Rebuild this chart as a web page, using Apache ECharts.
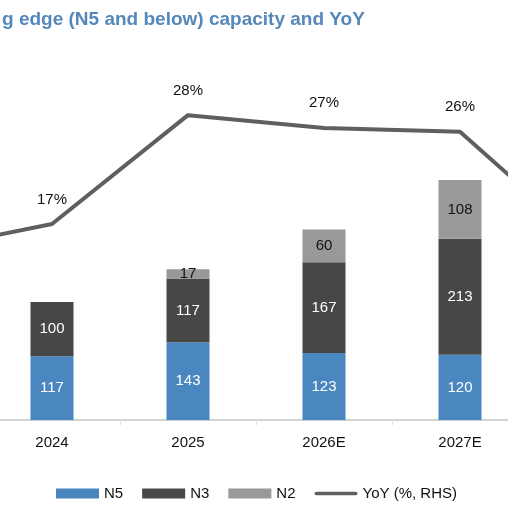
<!DOCTYPE html>
<html>
    <head>
        <meta charset="utf-8">
        <title>Leading edge capacity</title>
        <script src="https://cdn.jsdelivr.net/npm/echarts@6/dist/echarts.min.js"></script>
        <style>
            html, body { margin: 0; padding: 0; background: #fff; }
            #chart1 { width: 508px; height: 508px; }
        </style>
    </head>
    <body>
        <div id="chart1"></div>
    </body>
    <script type="text/javascript">
        // 数据 (2023 / 2028E 只露出折线的一段)
        var years = ['2023', '2024', '2025', '2026E', '2027E', '2028E'];
        var n5 = [null, 117, 143, 123, 120, null];
        var n3 = [null, 100, 117, 167, 213, null];
        var n2 = [null, null, 17, 60, 108, null];
        var yoy = [14.2, 17.0, 28.1, 26.8, 26.4, 14.1];

        var font = "'Liberation Sans', Arial, sans-serif";

        var myChart1 = echarts.init(document.getElementById('chart1'));

        function barLabel(color) {
            return {
                show: true,
                position: 'inside',
                color: color,
                fontSize: 15,
                fontFamily: font
            };
        }

        myChart1.setOption({
            animation: false,
            backgroundColor: '#fff',
            graphic: [{
                type: 'text',
                left: 2,
                top: 10,
                style: {
                    text: 'g edge (N5 and below) capacity and YoY',
                    fill: '#5587b8',
                    font: 'bold 19px "Liberation Sans", Arial, sans-serif'
                }
            }],
            legend: {
                bottom: 2,
                left: 51,
                itemWidth: 43,
                itemHeight: 10,
                itemGap: 19,
                textStyle: { fontSize: 15, fontFamily: font, color: '#111' },
                data: [
                    { name: 'N5', icon: 'rect' },
                    { name: 'N3', icon: 'rect' },
                    { name: 'N2', icon: 'rect' },
                    { name: 'YoY (%, RHS)', icon: 'path://M2,0 L45,0 A2,2 0 0 1 45,4 L2,4 A2,2 0 0 1 2,0 Z',
                      itemStyle: { color: '#5f5f5f' } }
                ]
            },
            grid: {
                left: -152,
                right: -156,
                top: 93.6,
                bottom: 88,
                containLabel: false,
                outerBoundsMode: 'none'
            },
            xAxis: {
                type: 'category',
                data: years,
                axisLine: { lineStyle: { color: '#d4d4d4', width: 2 } },
                axisTick: { show: true, length: 5, lineStyle: { color: '#dddddd' } },
                axisLabel: { fontSize: 15, fontFamily: font, color: '#111', margin: 15 }
            },
            yAxis: [
                { type: 'value', min: 0, max: 600, show: false, splitLine: { show: false } },
                { type: 'value', min: -3, max: 30.3, show: false, splitLine: { show: false } }
            ],
            series: [
                {
                    name: 'N5', type: 'bar', stack: 'cap', barWidth: 43,
                    itemStyle: { color: '#4a86c0' },
                    label: barLabel('#fff'),
                    data: n5
                },
                {
                    name: 'N3', type: 'bar', stack: 'cap',
                    itemStyle: { color: '#474747' },
                    label: barLabel('#fff'),
                    data: n3
                },
                {
                    name: 'N2', type: 'bar', stack: 'cap',
                    itemStyle: { color: '#999999' },
                    label: barLabel('#111'),
                    data: n2
                },
                {
                    name: 'YoY (%, RHS)', type: 'line', yAxisIndex: 1,
                    symbol: 'circle', symbolSize: 0.1,
                    itemStyle: { color: '#5f5f5f' },
                    lineStyle: { color: '#5f5f5f', width: 4 },
                    z: 5,
                    label: {
                        show: true,
                        position: 'top',
                        distance: 17,
                        fontSize: 15,
                        fontFamily: font,
                        color: '#111',
                        formatter: function (p) { return Math.round(p.value) + '%'; }
                    },
                    data: yoy
                }
            ]
        });
    </script>
</html>
